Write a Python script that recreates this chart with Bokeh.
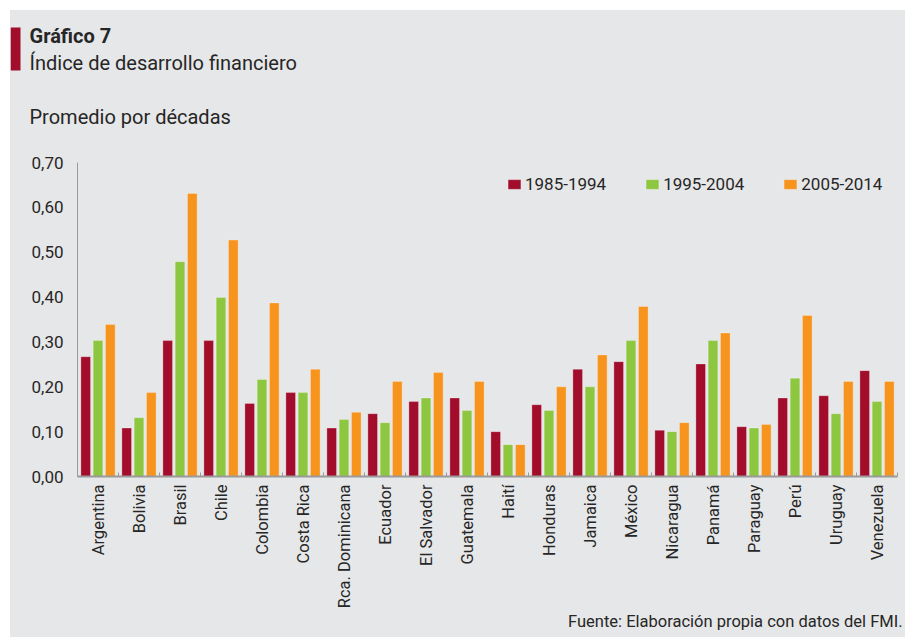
import numpy as np
from bokeh.plotting import figure
from bokeh.layouts import column, row
from bokeh.models import (Range1d, FixedTicker, ColumnDataSource, Legend, LegendItem)
from bokeh.core.properties import value
from bokeh.embed import file_html
from bokeh.resources import INLINE

countries = ["Argentina", "Bolivia", "Brasil", "Chile", "Colombia", "Costa Rica",
             "Rca. Dominicana", "Ecuador", "El Salvador", "Guatemala", "Haití",
             "Honduras", "Jamaica", "México", "Nicaragua", "Panamá", "Paraguay",
             "Perú", "Uruguay", "Venezuela"]
d1985 = [0.267, 0.108, 0.303, 0.303, 0.163, 0.187, 0.108, 0.140, 0.167, 0.175,
         0.100, 0.160, 0.239, 0.256, 0.103, 0.251, 0.111, 0.175, 0.180, 0.236]
d1995 = [0.303, 0.131, 0.479, 0.399, 0.216, 0.187, 0.127, 0.120, 0.175, 0.147,
         0.071, 0.147, 0.200, 0.303, 0.100, 0.303, 0.108, 0.219, 0.140, 0.167]
d2005 = [0.339, 0.187, 0.631, 0.527, 0.387, 0.239, 0.143, 0.212, 0.232, 0.212,
         0.071, 0.200, 0.271, 0.379, 0.120, 0.320, 0.116, 0.359, 0.212, 0.212]
series_names = ["1985-1994", "1995-2004", "2005-2014"]
y_ticks = [0.0, 0.1, 0.2, 0.3, 0.4, 0.5, 0.6, 0.7]
y_tick_labels = ["0,00", "0,10", "0,20", "0,30", "0,40", "0,50", "0,60", "0,70"]

title_txt = "Gráfico 7"
subtitle_txt = "Índice de desarrollo financiero"
note_txt = "Promedio por décadas"
source_txt = "Fuente: Elaboración propia con datos del FMI."

BG = "#e6e7e8"
TXT = "#262626"
FONT = "Roboto"
ACCENT = "#a20d2c"
colors = ["#a20d2c", "#8dc63f", "#f7941d"]
W = 895


def blank(h):
    f = figure(width=W, height=h, x_range=Range1d(0, W), y_range=Range1d(h, 0),
               output_backend="svg", toolbar_location=None,
               x_axis_location=None, y_axis_location=None,
               min_border=0, margin=0)
    f.background_fill_color = BG
    f.border_fill_color = BG
    f.outline_line_color = None
    f.grid.visible = False
    return f


# ---- header ----
HH = 142
head = blank(HH)
head.quad(left=[0], right=[10], top=[17], bottom=[60], fill_color=ACCENT, line_color=None)
head.text(x=[19], y=[25], text=[title_txt], text_font=value(FONT), text_font_size="20px",
          text_font_style="bold", text_color=TXT, text_baseline="middle")
head.text(x=[19], y=[52], text=[subtitle_txt], text_font=value(FONT), text_font_size="20px",
          text_color=TXT, text_baseline="middle")
head.text(x=[19], y=[106], text=[note_txt], text_font=value(FONT), text_font_size="20px",
          text_color=TXT, text_baseline="middle")

# ---- main chart ----
n = len(countries)
centers = np.arange(n) + 0.5

BOTTOM = 136
MH = 10 + 314 + BOTTOM
p = figure(width=W, height=MH, x_range=Range1d(0, n), y_range=Range1d(0, 0.70),
           output_backend="svg", toolbar_location=None, margin=0,
           min_border_left=67, min_border_right=8, min_border_top=10,
           min_border_bottom=BOTTOM)
p.background_fill_color = BG
p.border_fill_color = BG
p.outline_line_color = None
p.grid.visible = False

offsets = [-0.3, 0.0, 0.3]
renderers = []
for vals, off, col in zip([d1985, d1995, d2005], offsets, colors):
    src = ColumnDataSource(dict(x=centers + off, top=vals))
    r = p.vbar(x="x", top="top", bottom=0, width=0.235, source=src,
               fill_color=col, line_color="white", line_alpha=0.35, line_width=0.8)
    renderers.append(r)

xa = p.xaxis[0]
xa.ticker = FixedTicker(ticks=list(centers), minor_ticks=list(range(n + 1)))
xa.major_label_overrides = {float(c): name for c, name in zip(centers, countries)}
xa.major_label_orientation = np.pi / 2
xa.major_tick_in = 0
xa.major_tick_out = 0
xa.minor_tick_in = 4
xa.minor_tick_out = 0
xa.minor_tick_line_color = "#9a9a9a"
xa.axis_line_color = "#9a9a9a"
xa.axis_line_width = 2
xa.major_label_text_font = FONT
xa.major_label_text_font_size = "16.5px"
xa.major_label_text_color = TXT
xa.major_label_standoff = 8

ya = p.yaxis[0]
ya.ticker = FixedTicker(ticks=y_ticks)
ya.major_label_overrides = {t: l for t, l in zip(y_ticks, y_tick_labels)}
ya.major_tick_in = 0
ya.major_tick_out = 0
ya.minor_tick_line_color = None
ya.axis_line_color = "#9a9a9a"
ya.axis_line_width = 1
ya.major_label_text_font = FONT
ya.major_label_text_font_size = "17px"
ya.major_label_text_color = TXT
ya.major_label_standoff = 14

legend = Legend(items=[LegendItem(label=s, renderers=[r]) for s, r in zip(series_names, renderers)],
                orientation="horizontal", location=(429, 282),
                glyph_width=16, glyph_height=12, label_height=12, label_standoff=3,
                spacing=38, padding=0, margin=0,
                background_fill_alpha=0, border_line_color=None,
                label_text_font=FONT, label_text_font_size="17px", label_text_color=TXT)
p.add_layout(legend)

# ---- footer ----
FH = 627 - HH - MH
foot = blank(FH)
foot.text(x=[892], y=[9], text=[source_txt], text_font=value(FONT), text_font_size="16.5px",
          text_align="right", text_color=TXT, text_baseline="middle")

layout = column(row(head, margin=0), row(p, margin=0), row(foot, margin=0),
                margin=(10, 0, 0, 10), spacing=0, styles={"background-color": BG})

open("out.html", "w").write(file_html(layout, INLINE))
